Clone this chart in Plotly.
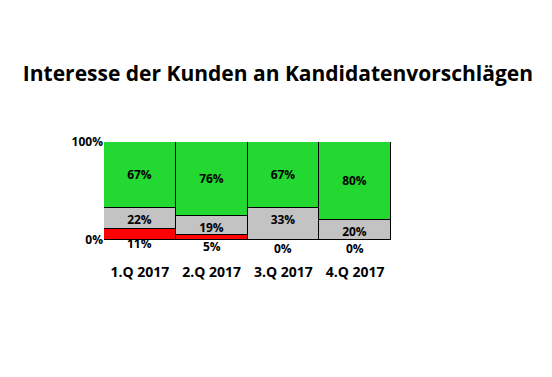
import plotly.graph_objects as go

categories = ["1.Q 2017", "2.Q 2017", "3.Q 2017", "4.Q 2017"]
red_vals = [11, 5, 0, 0]
gray_vals = [22, 19, 33, 20]
green_vals = [67, 76, 67, 80]
y_ticks = [0, 100]
y_tick_labels = ["0%", "100%"]

font_bold = dict(family="Open Sans", size=12, color="black")

fig = go.Figure()
fig.add_trace(go.Bar(x=categories, y=red_vals, marker=dict(color="#FF0000", line=dict(color="black", width=1)),
                     hoverinfo="skip", showlegend=False))
fig.add_trace(go.Bar(x=categories, y=gray_vals, marker=dict(color="#C3C3C3", line=dict(color="black", width=1)),
                     text=[f"<b>{v}%</b>" for v in gray_vals], textposition="inside", insidetextanchor="end",
                     textfont=font_bold, showlegend=False))
fig.add_trace(go.Bar(x=categories, y=green_vals, marker=dict(color="#22D831", line=dict(color="black", width=1)),
                     text=[f"<b>{v}%</b>" for v in green_vals], textposition="inside", insidetextanchor="middle",
                     textfont=font_bold, showlegend=False))

for cat, v in zip(categories, red_vals):
    fig.add_annotation(x=cat, y=v / 2, text=f"<b>{v}%</b>", showarrow=False,
                       yanchor="top", yshift=1, borderpad=0, font=font_bold)

fig.update_layout(
    width=552, height=377,
    barmode="stack", bargap=0,
    paper_bgcolor="white", plot_bgcolor="white",
    margin=dict(l=96, r=169, t=134, b=145),
    title=dict(text="<b>Interesse der Kunden an Kandidatenvorschlägen</b>",
               x=0.489, xanchor="center", y=0.825, yanchor="middle",
               font=dict(family="Open Sans", size=21, color="black")),
    uniformtext=dict(minsize=12, mode="show"),
)
fig.update_xaxes(showgrid=False, showline=False, ticks="",
                 tickfont=dict(family="Open Sans", size=14, color="black"),
                 tickprefix="<b>", ticksuffix="</b>", ticklabelstandoff=22)
fig.update_yaxes(range=[0, 100], tickvals=y_ticks, ticktext=[f"<b>{t}</b>" for t in y_tick_labels],
                 showgrid=False, zeroline=False, showline=False,
                 tickfont=dict(family="Open Sans", size=12, color="black"))

fig.write_html("out.html")
